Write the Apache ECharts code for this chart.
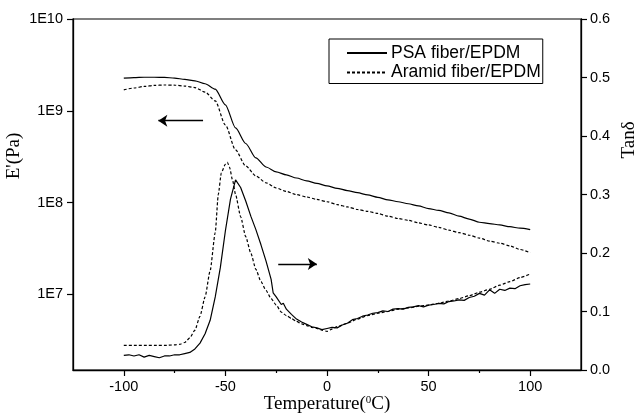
<!DOCTYPE html>
<html>
<head>
<meta charset="utf-8">
<script src="https://cdn.jsdelivr.net/npm/echarts@6/dist/echarts.min.js"></script>
<style>
html,body{margin:0;padding:0;background:#fff;}
#chart{width:640px;height:414px;}
</style>
</head>
<body>
<div id="chart"></div>
<script>
// ---- data ----
const seriesNames = ['PSA fiber/EPDM', 'Aramid fiber/EPDM'];

// Storage modulus E' (Pa), sampled every 5 °C
const tempMod = [-100,-95,-90,-85,-80,-75,-70,-65,-60,-55,-50,-45,-40,-35,-30,-25,-20,-15,-10,-5,0,5,10,15,20,25,30,35,40,45,50,55,60,65,70,75,80,85,90,95,100];
const modPSA = [2.27e9,2.30e9,2.32e9,2.32e9,2.31e9,2.27e9,2.20e9,2.12e9,1.97e9,1.72e9,1.16e9,6.5e8,4.4e8,3.06e8,2.44e8,2.16e8,2.0e8,1.85e8,1.72e8,1.62e8,1.52e8,1.43e8,1.35e8,1.28e8,1.21e8,1.14e8,1.07e8,1.02e8,9.7e7,9.2e7,8.6e7,8.2e7,7.7e7,7.1e7,6.6e7,6.1e7,5.9e7,5.7e7,5.45e7,5.25e7,5.07e7];
const modAramid = [1.69e9,1.77e9,1.84e9,1.89e9,1.91e9,1.90e9,1.86e9,1.79e9,1.60e9,1.28e9,7.0e8,3.74e8,2.5e8,1.95e8,1.64e8,1.44e8,1.32e8,1.22e8,1.15e8,1.08e8,1.02e8,9.5e7,8.96e7,8.4e7,8.0e7,7.6e7,7.1e7,6.7e7,6.4e7,6.0e7,5.7e7,5.35e7,5.0e7,4.7e7,4.4e7,4.1e7,3.8e7,3.6e7,3.37e7,3.08e7,2.83e7];

// Loss factor tan δ
const tempTanPSA = [-100,-97.5,-95,-92.5,-90,-87.5,-85,-82.5,-80,-77.5,-75,-72.5,-70,-67.5,-65,-62.5,-60,-57.5,-55,-52.5,-50,-47.5,-45,-42.5,-40,-37.5,-35,-32.5,-30,-27.5,-26.5,-25,-22.5,-21.5,-20,-17.5,-15,-12.5,-10,-7.5,-5,-2.5,0,2.5,5,7.5,10,12.5,15,17.5,20,22.5,25,27.5,30,32.5,35,37.5,40,42.5,45,47.5,50,52.5,55,57.5,60,62.5,65,67.5,70,72.5,75,77.5,80,82.5,85,87.5,90,92.5,95,97.5,100];
const tanPSA = [0.025,0.026,0.024,0.026,0.022,0.025,0.023,0.021,0.024,0.024,0.026,0.026,0.028,0.030,0.036,0.046,0.062,0.085,0.125,0.175,0.238,0.292,0.325,0.312,0.289,0.263,0.240,0.214,0.186,0.155,0.132,0.125,0.112,0.114,0.104,0.095,0.087,0.082,0.078,0.074,0.072,0.069,0.071,0.073,0.072,0.077,0.080,0.086,0.088,0.092,0.094,0.097,0.098,0.101,0.100,0.104,0.105,0.104,0.107,0.108,0.110,0.108,0.111,0.112,0.114,0.113,0.117,0.118,0.120,0.119,0.124,0.126,0.131,0.128,0.137,0.131,0.138,0.136,0.140,0.139,0.144,0.146,0.147];
const tempTanAramid = [-100,-95,-90,-85,-80,-75,-72.5,-70,-67.5,-65,-62.5,-60,-57.5,-55,-53.5,-52,-50,-49,-48,-46.5,-45,-42.5,-40,-37.5,-35,-32.5,-30,-27.5,-25,-22.5,-20,-17.5,-15,-12.5,-10,-7.5,-5,-2.5,0,2.5,5,10,15,20,25,30,35,40,45,50,55,60,65,70,75,80,85,90,95,100];
const tanAramid = [0.042,0.042,0.042,0.042,0.042,0.043,0.044,0.047,0.055,0.068,0.092,0.125,0.170,0.235,0.300,0.337,0.352,0.355,0.347,0.325,0.300,0.262,0.228,0.200,0.172,0.151,0.136,0.122,0.111,0.099,0.093,0.088,0.083,0.079,0.076,0.073,0.071,0.068,0.066,0.070,0.074,0.080,0.087,0.093,0.097,0.100,0.104,0.106,0.109,0.111,0.114,0.118,0.122,0.127,0.133,0.138,0.145,0.151,0.158,0.164];

// annotation arrows: [startTemp, endTemp, level]
const arrowModulus = [-61, -83, 7.8e8];
const arrowTan = [-24, -5, 0.181];

// axis ticks
const xLabelTicks = [-100, -50, 0, 50, 100];
const xMinorTicks = [-75, -25, 25, 75];
const modulusTicks = [1e7, 1e8, 1e9, 1e10];

const zip = (xs, ys) => xs.map((x, i) => [x, ys[i]]);

const chart = echarts.init(document.getElementById('chart'), null, {renderer: 'canvas'});
const sans = 'Liberation Sans, Arial, sans-serif';
const serif = 'Liberation Serif, Times New Roman, serif';
const black = '#000';

const arrowLine = (x0, x1, y) => ({
  silent: true,
  symbol: ['none', 'arrow'],
  symbolSize: 9,
  label: {show: false},
  emphasis: {disabled: true},
  lineStyle: {color: black, width: 1.3, type: 'solid'},
  itemStyle: {color: black},
  data: [[{coord: [x0, y]}, {coord: [x1, y]}]]
});

chart.setOption({
  animation: false,
  backgroundColor: '#fff',
  grid: {left: 73, right: 59, top: 19, bottom: 44, containLabel: false, outerBoundsMode: 'none',
    show: true, borderColor: black, borderWidth: 1.2, backgroundColor: 'transparent'},
  legend: {
    data: seriesNames,
    left: 329, top: 39,
    orient: 'vertical',
    padding: [5, 2, 2, 17],
    itemGap: 1.5,
    itemWidth: 40,
    itemHeight: 14,
    borderColor: black, borderWidth: 1,
    selectedMode: false,
    itemStyle: {color: 'rgba(0,0,0,0)', borderColor: 'rgba(0,0,0,0)', borderWidth: 0, opacity: 0},
    textStyle: {fontFamily: sans, fontSize: 17.5, color: black, padding: [0, 0, 0, -1]}
  },
  xAxis: [{
    type: 'value', min: -125, max: 125, interval: 25,
    position: 'bottom',
    axisLine: {onZero: false, lineStyle: {color: black, width: 1.3}},
    axisTick: {show: true, customValues: xLabelTicks, length: 6, lineStyle: {color: black, width: 1.2}},
    axisLabel: {customValues: xLabelTicks, color: black, fontFamily: sans, fontSize: 14.5, margin: 9},
    splitLine: {show: false},
    name: 'Temperature({sup|0}C)',
    nameLocation: 'middle', nameGap: 25, nameMoveOverlap: false,
    nameTextStyle: {fontFamily: serif, fontSize: 19, color: black,
      rich: {sup: {fontFamily: serif, fontSize: 11, color: black, verticalAlign: 'top', padding: [0, 0, 8, 0]}}}
  }, {
    type: 'value', min: -125, max: 125, interval: 25,
    position: 'bottom',
    axisLine: {show: false, onZero: false},
    axisTick: {show: true, customValues: xMinorTicks, length: 3, lineStyle: {color: black, width: 1.2}},
    axisLabel: {show: false},
    splitLine: {show: false}
  }],
  yAxis: [{
    type: 'log', logBase: 10, min: Math.pow(10, 6.175), max: 1e10,
    position: 'left',
    axisLine: {show: true, onZero: false, lineStyle: {color: black, width: 1.3}},
    axisTick: {show: true, customValues: modulusTicks, length: 6, lineStyle: {color: black, width: 1.2}},
    axisLabel: {customValues: modulusTicks, color: black, fontFamily: sans, fontSize: 14.5, margin: 10,
      formatter: v => '1E' + Math.round(Math.log10(v))},
    splitLine: {show: false}, minorTick: {show: false}
  }, {
    type: 'value', min: 0, max: 0.6, interval: 0.1,
    position: 'right',
    axisLine: {show: true, onZero: false, lineStyle: {color: black, width: 1.3}},
    axisTick: {show: true, length: 6, lineStyle: {color: black, width: 1.2}},
    axisLabel: {color: black, fontFamily: sans, fontSize: 14.5, margin: 9, formatter: v => v.toFixed(1)},
    splitLine: {show: false}
  }],
  graphic: [
    {type: 'text', x: 14, y: 156, rotation: Math.PI / 2,
      style: {text: "E'(Pa)", fontFamily: serif, fontSize: 19, fill: black, align: 'center', verticalAlign: 'middle'}},
    {type: 'text', x: 629, y: 140, rotation: Math.PI / 2,
      style: {text: 'Tanδ', fontFamily: serif, fontSize: 19, fill: black, align: 'center', verticalAlign: 'middle'}}
  ],
  series: [{
    name: seriesNames[0], type: 'line', xAxisIndex: 0, yAxisIndex: 0,
    data: zip(tempMod, modPSA), symbol: 'none', smooth: 0.25, smoothMonotone: 'x',
    lineStyle: {color: black, width: 1.2}, itemStyle: {color: black},
    markLine: arrowLine(arrowModulus[0], arrowModulus[1], arrowModulus[2])
  }, {
    name: seriesNames[1], type: 'line', xAxisIndex: 0, yAxisIndex: 0,
    data: zip(tempMod, modAramid), symbol: 'none', smooth: 0.25, smoothMonotone: 'x',
    lineStyle: {color: black, width: 1.2, type: [3, 2]}, itemStyle: {color: black}
  }, {
    name: seriesNames[0], type: 'line', xAxisIndex: 0, yAxisIndex: 1,
    data: zip(tempTanPSA, tanPSA), symbol: 'none', smooth: false,
    lineStyle: {color: black, width: 1.2}, itemStyle: {color: black},
    markLine: arrowLine(arrowTan[0], arrowTan[1], arrowTan[2])
  }, {
    name: seriesNames[1], type: 'line', xAxisIndex: 0, yAxisIndex: 1,
    data: zip(tempTanAramid, tanAramid), symbol: 'none', smooth: 0.2, smoothMonotone: 'x',
    lineStyle: {color: black, width: 1.2, type: [3, 2]}, itemStyle: {color: black}
  }]
});
</script>
</body>
</html>
